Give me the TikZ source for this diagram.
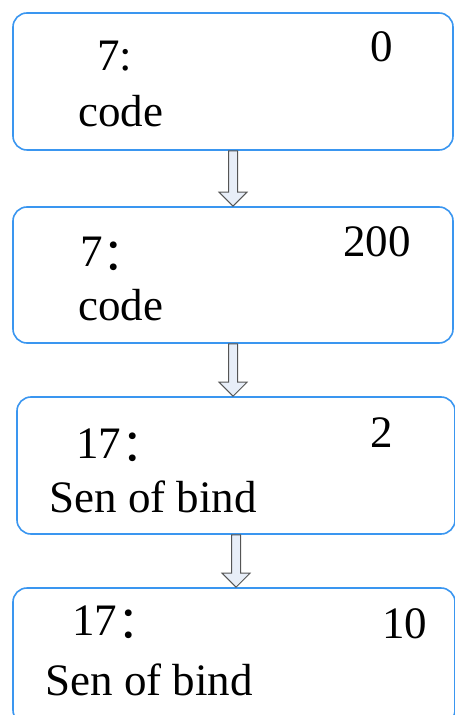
\documentclass[tikz,border=0pt]{standalone}
\usepackage{fontspec}
\setmainfont{Liberation Serif}
\newfontfamily\cjkfont{Noto Sans CJK SC}
\usepackage{xcolor}
\usetikzlibrary{calc}

\definecolor{boxblue}{RGB}{58,150,240}
\definecolor{arrowfill}{RGB}{232,238,248}
\definecolor{arrowline}{RGB}{85,85,85}

% full-width colon, sitting on the baseline
\newcommand\widecolon{\raisebox{-0.08em}{\cjkfont ：}}

% hollow block arrow from the bottom of #1 to the top of #2
\newcommand\flowarrow[2]{%
  \path (#1.south) coordinate (top) (#1.south |- #2.north) coordinate (tip);
  \draw[blockarrow] ($(top)+(-4.5,0)$) -- ($(tip)+(-4.5,-14)$) -- ($(tip)+(-14,-14)$)
    -- (tip) -- ($(tip)+(14,-14)$) -- ($(tip)+(4.5,-14)$) -- ($(top)+(4.5,0)$) -- cycle;
}

\tikzset{
  stage/.style={draw=boxblue, line width=0.8pt, rounded corners=7pt, inner sep=0pt},
  tag/.style={anchor=base west, inner sep=0pt, font=\fontsize{22.5}{27}\selectfont},
  blockarrow/.style={draw=arrowline, fill=arrowfill, line width=0.5pt, line join=miter}
}

\begin{document}
\begin{tikzpicture}[x=0.5pt, y=-0.5pt]
\useasboundingbox (0,0) rectangle (454,715);

% the four stages
\node[stage, minimum width=220pt, minimum height=68.5pt] (box1) at (233,81.5) {};
\node[stage, minimum width=220pt, minimum height=68pt] (box2) at (233,275) {};
\node[stage, minimum width=219pt, minimum height=68.5pt] (box3) at (236,465.5) {};
\node[stage, minimum width=221pt, minimum height=68pt] (box4) at (234,656) {};

% texts
\node[tag] (id1) at (97,71) {7:};
\node[tag] (val1) at (370,62) {0};
\node[tag] (txt1) at (78,127) {code};

\node[tag] (id2) at (80,267) {7\widecolon};
\node[tag] (val2) at (343,257) {200};
\node[tag] (txt2) at (78,321) {code};

\node[tag] (id3) at (76,458) {17\widecolon};
\node[tag] (val3) at (370,447) {2};
\node[tag] (txt3) at (49,512) {Sen of bind};

\node[tag] (id4) at (72,635) {17\widecolon};
\node[tag] (val4) at (382,638) {10};
\node[tag] (txt4) at (45,695) {Sen of bind};

% arrows
\flowarrow{box1}{box2}
\flowarrow{box2}{box3}
\flowarrow{box3}{box4}
\end{tikzpicture}
\end{document}
